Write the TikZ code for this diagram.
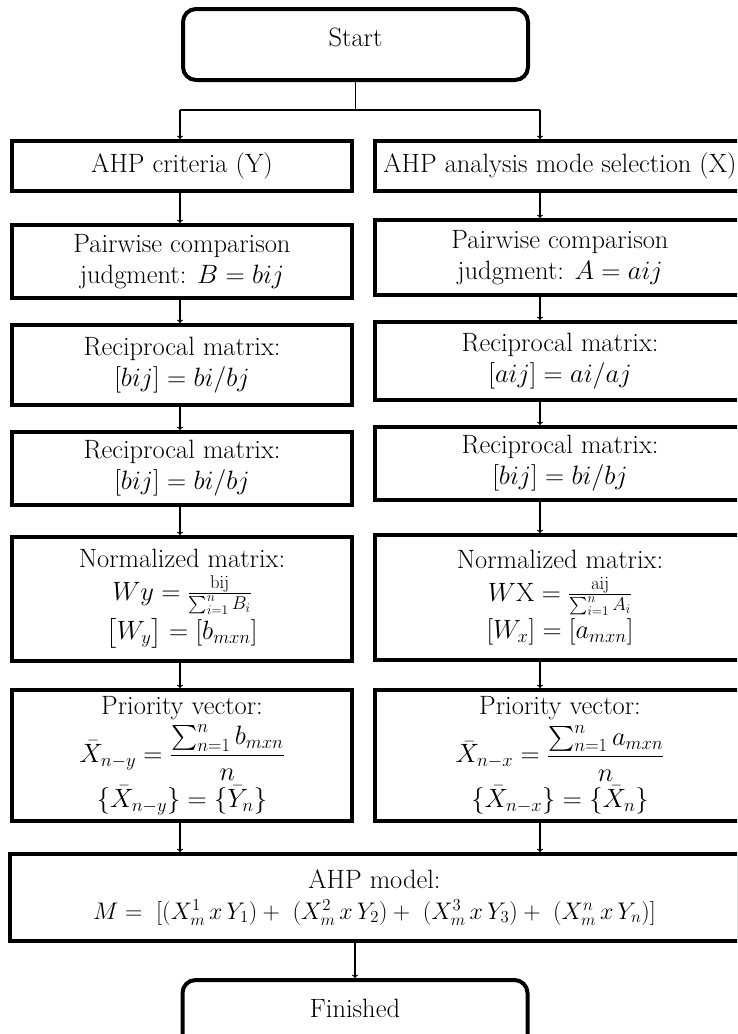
\RequirePackage{fix-cm}
\documentclass[tikz,border=0pt]{standalone}
\usepackage{amsmath}
\usepackage{tikz}
\usetikzlibrary{positioning}

\tikzset{
    box/.style={draw, line width=4pt, align=center, inner sep=2pt,
        font=\fontsize{26.5}{31}\selectfont},
    leftbox/.style={box, minimum width=340pt},
    rightbox/.style={box, minimum width=370pt},
    termbox/.style={box, rounded corners=13pt, minimum width=345pt,
        minimum height=71pt, text depth=15pt},
    arr/.style={->, line width=1.2pt},
    link/.style={-, line width=1.2pt}
}

\begin{document}
\begin{tikzpicture}[x=1pt, y=-1pt]
    \useasboundingbox (0,0) rectangle (737,1034);
    \fill[white] (0,0) rectangle (737,1034);
    \clip (0,0) rectangle (737,1034);

    \coordinate (colL) at (180,0);
    \coordinate (colR) at (540,0);
    \coordinate (splitL) at (180,110);
    \coordinate (splitR) at (540,110);

    \node[termbox] (start) at (355.5,44.5) {Start};

    %Left column
    \node[leftbox, minimum height=50pt] (critY) at (182,166)
        {AHP criteria (Y)};
    \node[leftbox, minimum height=73pt] (pairY) at (182,261.5)
        {Pairwise comparison\\ judgment: $B = bij$};
    \node[leftbox, minimum height=80pt] (recY) at (182,365)
        {Reciprocal matrix:\\ $[bij] = bi/bj$};
    \node[leftbox, minimum height=73pt] (recYb) at (182,468.5)
        {Reciprocal matrix:\\ $[bij] = bi/bj$};
    \node[leftbox, minimum height=124pt] (normY) at (182,599)
        {Normalized matrix:\\[2pt]
         $Wy = \tfrac{\mathrm{bij}}{\sum_{i=1}^{n} B_i}$\\[2pt]
         $\bigl[W_y\bigr] = [b_{mxn}]$};
    \node[leftbox, minimum height=131pt] (prioY) at (182,755.5)
        {Priority vector:\\[4pt]
         $\bar{X}_{n-y} = \dfrac{\sum_{n=1}^{n} b_{mxn}}{n}$\\[4pt]
         $\{\bar{X}_{n-y}\} = \{\bar{Y}_n\}$};

    %Right column
    \node[rightbox, minimum height=50pt] (critX) at (560,166)
        {AHP analysis mode selection (X)};
    \node[rightbox, minimum height=75pt] (pairX) at (560,257.5)
        {Pairwise comparison\\ judgment: $A = aij$};
    \node[rightbox, minimum height=78pt] (recX) at (560,361)
        {Reciprocal matrix:\\ $[aij] = ai/aj$};
    \node[rightbox, minimum height=73pt] (recXb) at (560,463.5)
        {Reciprocal matrix:\\ $[bij] = bi/bj$};
    \node[rightbox, minimum height=125pt] (normX) at (560,597.5)
        {Normalized matrix:\\[2pt]
         $W\mathrm{X} = \tfrac{\mathrm{aij}}{\sum_{i=1}^{n} A_i}$\\[2pt]
         $[W_x] = [a_{mxn}]$};
    \node[rightbox, minimum height=131pt] (prioX) at (560,755.5)
        {Priority vector:\\[4pt]
         $\bar{X}_{n-x} = \dfrac{\sum_{n=1}^{n} a_{mxn}}{n}$\\[4pt]
         $\{\bar{X}_{n-x}\} = \{\bar{X}_n\}$};

    \node[box, minimum width=729pt, minimum height=87pt] (model) at (374.5,897.5)
        {AHP model:\\
         {\fontsize{24}{31}\selectfont
         $M = \ [(X_m^1\, x\, Y_1) + \ (X_m^2\, x\, Y_2) + \ (X_m^3\, x\, Y_3) + \ (X_m^n\, x\, Y_n)]$}};

    \node[termbox] (finish) at (355,1015.5) {Finished};

    %Lines
    \draw[link] (start.south) -- (start.south |- splitL);
    \draw[link] (splitL) -- (splitR);
    \draw[arr] (splitL) -- (splitL |- critY.north);
    \draw[arr] (splitR) -- (splitR |- critX.north);

    \draw[arr] (critY.south -| colL) -- (pairY.north -| colL);
    \draw[arr] (pairY.south -| colL) -- (recY.north -| colL);
    \draw[arr] (recY.south -| colL) -- (recYb.north -| colL);
    \draw[arr] (recYb.south -| colL) -- (normY.north -| colL);
    \draw[arr] (normY.south -| colL) -- (prioY.north -| colL);
    \draw[arr] (prioY.south -| colL) -- (model.north -| colL);

    \draw[arr] (critX.south -| colR) -- (pairX.north -| colR);
    \draw[arr] (pairX.south -| colR) -- (recX.north -| colR);
    \draw[arr] (recX.south -| colR) -- (recXb.north -| colR);
    \draw[arr] (recXb.south -| colR) -- (normX.north -| colR);
    \draw[arr] (normX.south -| colR) -- (prioX.north -| colR);
    \draw[arr] (prioX.south -| colR) -- (model.north -| colR);

    \draw[arr] (model.south -| finish) -- (finish.north);
\end{tikzpicture}
\end{document}
